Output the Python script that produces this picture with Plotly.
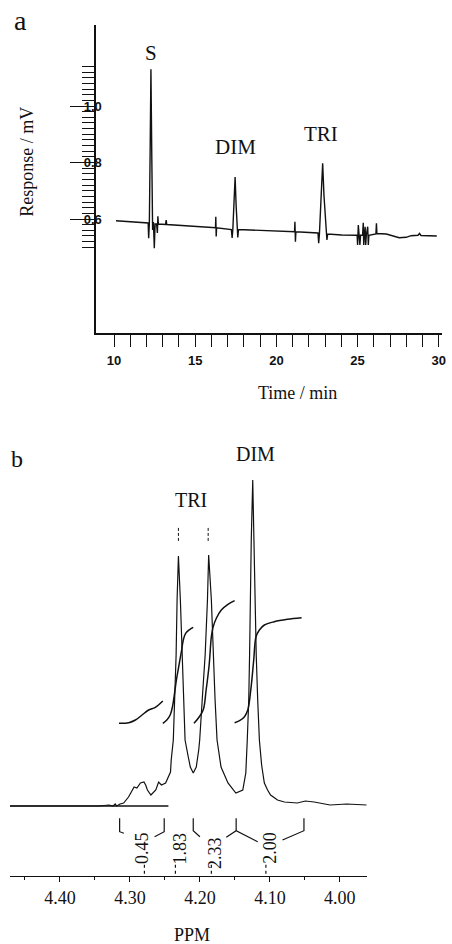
import plotly.graph_objects as go

# ---------------- Panel a : chromatogram ----------------
time_min = [10.122, 12.012, 12.104, 12.134, 12.177, 12.226, 12.274, 12.329, 12.378, 12.427,
            12.482, 12.530, 12.622, 12.671, 12.701, 12.732, 13.171, 13.213, 13.250, 14.573,
            16.098, 16.250, 16.268, 16.293, 16.317, 17.226, 17.274, 17.317, 17.396, 17.457,
            17.518, 17.579, 17.622, 17.665, 18.841, 21.098, 21.116, 21.140, 21.171, 21.201,
            22.561, 22.604, 22.652, 22.774, 22.848, 22.927, 23.049, 23.110, 23.159, 24.024,
            24.970, 25.000, 25.043, 25.079, 25.140, 25.183, 25.305, 25.348, 25.378, 25.415,
            25.463, 25.500, 25.537, 25.622, 25.659, 25.695, 26.128, 26.159, 26.189, 26.768,
            27.256, 27.561, 27.988, 28.293, 28.720, 28.811, 28.902, 29.878]
response_mV = [0.594, 0.5869, 0.5858, 0.5317, 0.5858, 0.8442, 1.1299, 0.8088, 0.5611, 0.5894,
               0.4963, 0.5823, 0.5823, 0.5504, 0.6096, 0.5823, 0.5805, 0.5965, 0.5805, 0.5752,
               0.5699, 0.5692, 0.6081, 0.5381, 0.5692, 0.5628, 0.5327, 0.5628, 0.6673, 0.7487,
               0.6496, 0.5628, 0.5345, 0.5628, 0.5600, 0.5550, 0.5547, 0.5904, 0.5196, 0.5547,
               0.5504, 0.5140, 0.5504, 0.6850, 0.7972, 0.6850, 0.5504, 0.5257, 0.5469, 0.5434,
               0.5423, 0.5080, 0.5788, 0.5423, 0.5080, 0.5423, 0.5423, 0.5869, 0.5080, 0.5423,
               0.5727, 0.5080, 0.5423, 0.5727, 0.5080, 0.5423, 0.5469, 0.5848, 0.5487, 0.5469,
               0.5398, 0.5338, 0.5352, 0.5409, 0.5423, 0.5487, 0.5416, 0.5398]

a_xtick_vals = list(range(10, 31))
a_xtick_text = [str(v) if v % 5 == 0 else "" for v in a_xtick_vals]
a_ytick_vals = [0.5, 0.6, 0.7, 0.8, 0.9, 1.0, 1.1]
a_ytick_text = ["", "0.6", "", "0.8", "", "1.0", ""]
a_yminor_vals = [round(0.5 + 0.02 * i, 2) for i in range(33)]

# ---------------- Panel b : 1H NMR spectrum ----------------
ppm = [4.4715, 4.429, 4.3865, 4.344, 4.330, 4.324, 4.321, 4.319, 4.314, 4.309,
       4.302, 4.294, 4.290, 4.285, 4.280, 4.2775, 4.275, 4.270, 4.263, 4.259,
       4.255, 4.249, 4.242, 4.241, 4.238, 4.236, 4.234, 4.2326, 4.2307, 4.2279,
       4.2255, 4.2232, 4.2212, 4.2166, 4.2137, 4.2095, 4.2052, 4.2017, 4.2003, 4.1967,
       4.1925, 4.1892, 4.1875, 4.1836, 4.1812, 4.1783, 4.1755, 4.1698, 4.1599, 4.1486,
       4.1387, 4.1344, 4.1323, 4.1302, 4.129, 4.1283, 4.1266, 4.1245, 4.1227, 4.1217,
       4.1195, 4.1174, 4.115, 4.1118, 4.1079, 4.1033, 4.099, 4.0891, 4.0792, 4.0608,
       4.0494, 4.0367, 4.0282, 4.014, 3.990, 3.9616]
intensity = [0, 0, 0.15, 0, 0.31, 0, 0.61, 0, 0.61, 0.92,
             2.76, 5.83, 5.52, 7.06, 7.36, 6.44, 4.91, 3.37, 4.91, 7.36,
             6.44, 7.06, 10.43, 14.11, 20.25, 32.52, 46.32, 63.19, 76.69, 63.19,
             46.32, 32.52, 20.25, 15.03, 11.96, 10.12, 11.96, 17.18, 20.25, 32.52,
             46.32, 63.19, 76.99, 63.19, 46.32, 32.52, 20.25, 11.96, 7.06, 3.99,
             4.91, 10.12, 20.25, 32.52, 46.32, 63.19, 81.6, 100, 81.6, 63.19,
             46.32, 32.52, 20.25, 12.58, 7.06, 4.91, 3.37, 1.84, 1.23, 0.92,
             1.53, 1.23, 0.92, 0.31, 0.61, 0.31]

ref_ppm = [4.4715, 4.245]
ref_int = [0, 0]

int1_ppm = [4.3157, 4.3016, 4.2921, 4.2827, 4.2733, 4.2637, 4.2530]
int1_val = [25.37, 25.55, 26.38, 27.91, 29.45, 30.28, 32.21]
int2_ppm = [4.2530, 4.2473, 4.2425, 4.2392, 4.2336, 4.2293, 4.2261, 4.2237, 4.2204, 4.2142, 4.2095]
int2_val = [25.37, 26.38, 27.91, 30.46, 38.65, 43.87, 47.85, 50.92, 52.98, 54.20, 54.82]
int3_ppm = [4.2085, 4.2024, 4.1953, 4.1911, 4.1868, 4.1836, 4.1812, 4.1765, 4.1694, 4.1599, 4.1504]
int3_val = [25.37, 26.90, 29.45, 35.58, 43.25, 51.93, 54.82, 57.58, 60.12, 61.87, 62.98]
int4_ppm = [4.1504, 4.1433, 4.1363, 4.1316, 4.1273, 4.1231, 4.1198, 4.115, 4.1079, 4.0938, 4.0749, 4.0547]
int4_val = [25.55, 26.17, 27.39, 29.45, 35.58, 44.79, 51.93, 53.99, 55.52, 56.53, 57.27, 57.76]

bracket_ppm = [4.3147, 4.3147, 4.3086, None,
               4.2510, 4.2510, 4.2647, None,
               4.2095, 4.2095, 4.2000, None,
               4.1482, 4.1482, None, 4.1623, 4.1482, 4.1174, None,
               4.0513, 4.0513, 4.0820]
bracket_val = [-3.77, -7.88, -8.37, None,
               -3.77, -7.88, -9.42, None,
               -3.77, -7.58, -9.42, None,
               -3.77, -7.58, None, -9.60, -7.58, -10.95, None,
               -3.77, -7.58, -10.43]

integral_labels = ["0.45", "1.83", "2.33", "2.00"]
integral_label_ppm = [4.2830, 4.2279, 4.1783, 4.1004]
integral_label_val = [-12.9, -12.9, -14.4, -12.9]
integral_mark_ppm = [4.2793, 4.2350, 4.1836, 4.1057]

tri_mark_ppm = [4.2307, 4.1882]

b_xtick_vals = [4.40, 4.30, 4.20, 4.10, 4.00]
b_xtick_text = ["4.40", "4.30", "4.20", "4.10", "4.00"]

# ---------------- figure ----------------
W, H = 452, 944
def px(x):
    return x / W
def py(y):
    return 1 - y / H

BLACK = "#111111"
serif = "Liberation Serif, Times New Roman, serif"
sans = "Liberation Sans, Arial, sans-serif"

fig = go.Figure()

fig.add_trace(go.Scatter(x=time_min, y=response_mV, mode="lines",
                         line=dict(color=BLACK, width=1.4), xaxis="x", yaxis="y",
                         showlegend=False, hoverinfo="skip"))

fig.add_trace(go.Scatter(x=ppm, y=intensity, mode="lines",
                         line=dict(color=BLACK, width=1.2), xaxis="x2", yaxis="y2",
                         showlegend=False, hoverinfo="skip"))
fig.add_trace(go.Scatter(x=ref_ppm, y=ref_int, mode="lines",
                         line=dict(color=BLACK, width=1.4), xaxis="x2", yaxis="y2",
                         showlegend=False, hoverinfo="skip"))
for xs, ys in [(int1_ppm, int1_val), (int2_ppm, int2_val), (int3_ppm, int3_val), (int4_ppm, int4_val)]:
    fig.add_trace(go.Scatter(x=xs, y=ys, mode="lines", line_shape="spline",
                             line=dict(color=BLACK, width=1.5), xaxis="x2", yaxis="y2",
                             showlegend=False, hoverinfo="skip"))
fig.add_trace(go.Scatter(x=bracket_ppm, y=bracket_val, mode="lines",
                         line=dict(color=BLACK, width=1.2), xaxis="x2", yaxis="y2",
                         showlegend=False, hoverinfo="skip", connectgaps=False))

mark_x, mark_y = [], []
for p in integral_mark_ppm:
    mark_x += [p, p, None]
    mark_y += [-18.0, -21.4, None]
fig.add_trace(go.Scatter(x=mark_x, y=mark_y, mode="lines",
                         line=dict(color=BLACK, width=1.2, dash="dot"), xaxis="x2", yaxis="y2",
                         showlegend=False, hoverinfo="skip", connectgaps=False))

tri_x, tri_y = [], []
for p in tri_mark_ppm:
    tri_x += [p, p, None]
    tri_y += [85.3, 81.0, None]
fig.add_trace(go.Scatter(x=tri_x, y=tri_y, mode="lines",
                         line=dict(color=BLACK, width=1.0, dash="3px,2px"), xaxis="x2", yaxis="y2",
                         showlegend=False, hoverinfo="skip", connectgaps=False))

annotations = []
def label(text, x, y, size, family=serif, angle=0):
    annotations.append(dict(text=text, x=px(x), y=py(y), xref="paper", yref="paper",
                            showarrow=False, xanchor="center", yanchor="middle",
                            textangle=angle, font=dict(family=family, size=size, color=BLACK)))

label("a", 20.5, 21, 28)
label("S", 152.5, 53, 21)
label("DIM", 238, 147, 21)
label("TRI", 324, 134, 21)
label("Response / mV", 27, 162, 18, angle=-90)
label("Time / min", 300, 393, 18)
label("b", 17, 459, 24)
label("DIM", 257.5, 454, 20)
label("TRI", 192.5, 500, 20)
label("PPM", 193.5, 935, 18)

for t, xv, yv in zip(integral_labels, integral_label_ppm, integral_label_val):
    annotations.append(dict(text=t, x=xv, y=yv, xref="x2", yref="y2", showarrow=False,
                            textangle=-90, xanchor="center", yanchor="middle",
                            font=dict(family=serif, size=18, color=BLACK)))

fig.update_layout(
    width=W, height=H,
    margin=dict(l=0, r=0, t=0, b=0),
    paper_bgcolor="white", plot_bgcolor="white",
    showlegend=False,
    annotations=annotations,
    xaxis=dict(domain=[px(97), px(446)], anchor="y", range=[8.9, 30.2],
               showline=True, linecolor=BLACK, linewidth=1.5, mirror=False,
               ticks="outside", ticklen=12, tickwidth=1.3, tickcolor=BLACK,
               tickmode="array", tickvals=a_xtick_vals, ticktext=a_xtick_text,
               tickfont=dict(family=sans, size=13, color=BLACK, weight="bold"),
               ticklabelstandoff=3,
               showgrid=False, zeroline=False),
    yaxis=dict(domain=[py(333), py(25)], anchor="x", range=[0.1965, 1.2867],
               showline=True, linecolor=BLACK, linewidth=1.5,
               ticks="outside", ticklen=24, tickwidth=1.3, tickcolor=BLACK,
               tickmode="array", tickvals=a_ytick_vals, ticktext=a_ytick_text,
               tickfont=dict(family=sans, size=13, color=BLACK, weight="bold"),
               ticklabelstandoff=-34,
               minor=dict(tickmode="array", tickvals=a_yminor_vals, ticks="outside",
                          ticklen=12, tickwidth=1.1, tickcolor=BLACK, showgrid=False),
               showgrid=False, zeroline=False),
    xaxis2=dict(domain=[px(10), px(370)], anchor="y2", range=[4.4715, 3.9616],
                showline=True, linecolor=BLACK, linewidth=1.3,
                ticks="outside", ticklen=5, tickwidth=1.2, tickcolor=BLACK,
                tickmode="array", tickvals=b_xtick_vals, ticktext=b_xtick_text,
                tickfont=dict(family=serif, size=18, color=BLACK),
                minor=dict(tickmode="array", tickvals=[4.45, 4.35, 4.25, 4.15, 4.05],
                           ticks="outside", ticklen=3, tickwidth=1, tickcolor=BLACK),
                showgrid=False, zeroline=False),
    yaxis2=dict(domain=[py(876), py(440)], anchor="x2", range=[-21.47, 112.27],
                visible=False, showgrid=False, zeroline=False),
)

fig.write_html("out.html")
